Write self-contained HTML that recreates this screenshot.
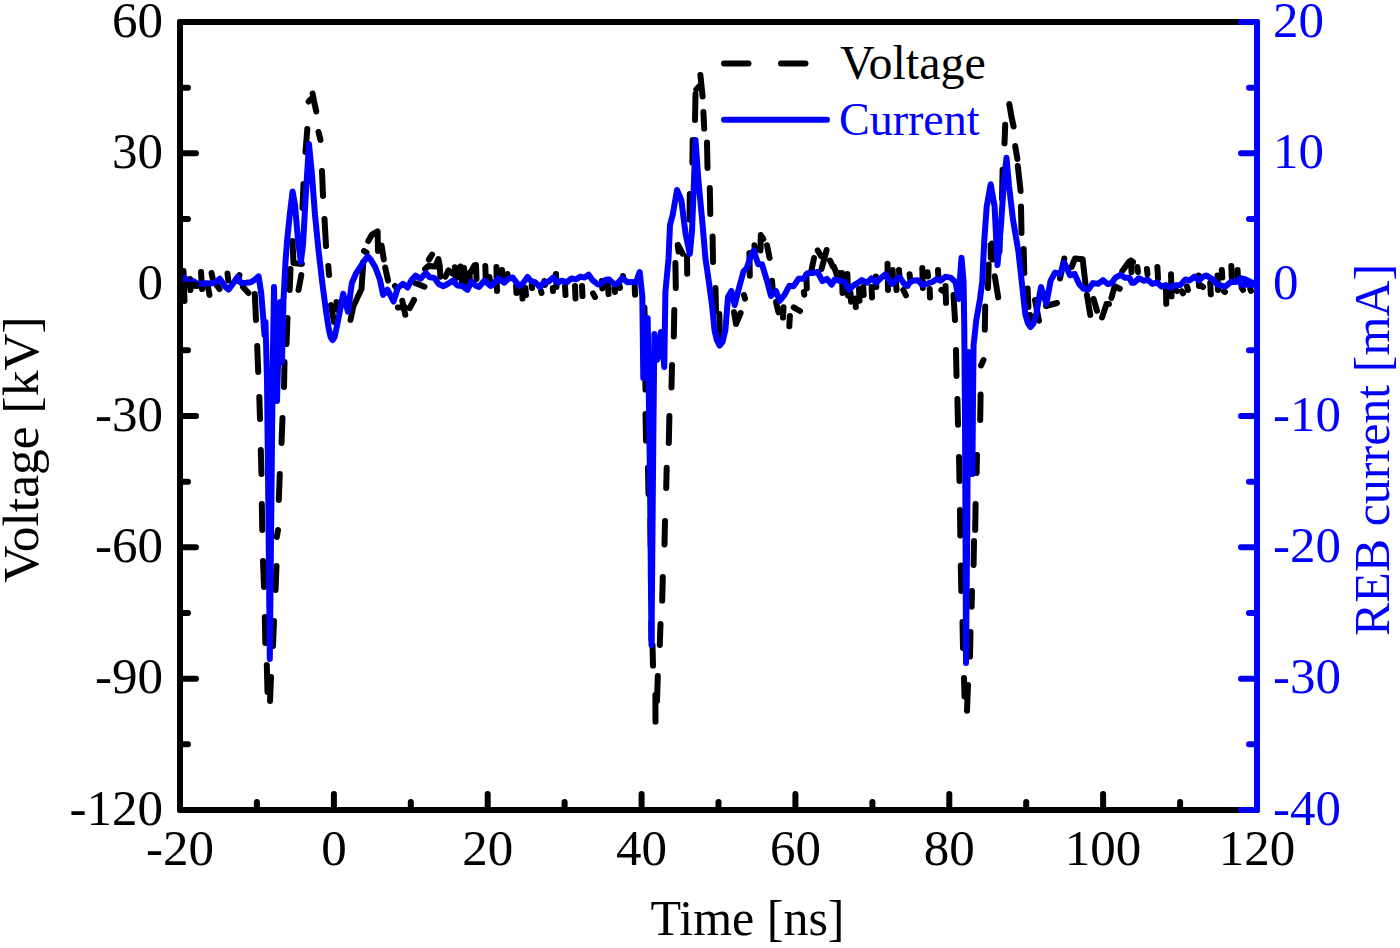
<!DOCTYPE html>
<html><head><meta charset="utf-8"><style>
html,body{margin:0;padding:0;background:#fff;}
svg{display:block;}
text{font-family:"Liberation Serif",serif;}
</style></head><body>
<svg width="1400" height="948" viewBox="0 0 1400 948">
<rect width="1400" height="948" fill="#fff"/>
<path d="M183.5,271.0 L184.5,301.0M185.0,285.0 L197.0,286.0M201.0,272.0 L202.0,289.0M208.0,287.0 L209.5,295.0M211.5,273.0 L213.0,280.0M216.0,284.0 L219.5,289.0M227.5,273.5 L228.3,280.5M237.5,281.0 L239.5,275.0M243.0,287.0 L248.5,293.0M190.0,279.0 L190.5,290.0M254.8,294.0 L256.0,320.0M257.2,346.0 L258.2,372.0M259.3,397.0 L260.0,419.0M260.8,450.0 L261.5,474.0M261.8,504.0 L262.3,530.0M263.0,561.0 L264.0,587.0M264.8,617.0 L265.3,643.0M266.8,665.0 L267.5,692.0M271.0,677.0 L270.0,701.0M274.0,621.0 L273.0,646.0M276.5,566.0 L275.5,590.0M278.0,530.0 L276.8,537.0M279.8,474.0 L278.8,500.0M282.5,418.0 L281.5,443.0M284.5,362.0 L284.0,387.0M287.5,318.0 L286.5,344.0M290.5,269.0 L289.7,290.0M292.5,241.0 L293.5,263.0 L302.0,264.0M301.3,275.0 L298.5,290.0M303.5,184.0 L302.5,208.0M307.3,129.0 L305.5,152.0M308.6,101.5 L311.5,98.5M312.6,93.5 L314.4,103.0 L316.3,111.5M318.5,132.0 L320.5,140.0M322.0,171.0 L323.0,196.0M324.5,219.0 L326.0,246.0M328.3,266.0 L329.0,275.0M331.0,305.0 L334.0,322.0M336.5,302.0 L337.5,310.0M363.3,262.0 L361.5,289.0M360.5,291.0 L353.5,306.0M353.0,308.0 L350.5,320.0M364.0,251.0 L366.5,252.5M368.3,241.0 L372.0,234.5 L377.6,231.3 L377.8,242.0 L378.0,251.0M381.6,245.5 L383.8,259.5M385.2,267.5 L388.0,280.5M395.0,286.0 L396.4,288.0M397.9,307.4 L404.5,306.7M402.3,300.8 L405.3,314.8M409.7,308.0 L414.0,300.0M414.9,283.0 L424.5,286.7M428.9,259.6 L432.0,254.6M425.1,269.0 L428.3,266.0 L435.3,266.6 L438.4,259.0 L439.7,265.3 L440.3,276.7M445.4,276.7 L448.5,270.4 L453.0,274.0M454.9,267.2 L456.0,278.0M460.6,266.6 L462.0,283.0M464.0,268.0 L465.0,283.0M469.4,274.2 L474.5,265.3M469.5,273.0 L470.0,283.0M476.0,265.0 L476.5,279.0M485.3,266.0 L485.8,280.0M489.5,277.0 L490.0,281.0M496.4,267.0 L497.0,291.0M502.0,270.0 L502.5,278.0M507.5,274.0 L508.0,278.0M516.0,286.0 L516.5,293.0M522.0,287.0 L522.5,298.6M525.4,288.0 L526.0,295.0M531.7,285.0 L532.0,288.0M541.0,291.0 L541.5,293.0M544.4,281.0 L545.0,285.0M552.8,288.0 L553.0,291.0M556.0,274.0 L556.5,287.0M565.0,286.0 L565.5,295.0M575.0,286.0 L575.5,298.5M582.0,286.0 L582.5,296.0M593.0,293.4 L595.0,297.2M601.8,281.0 L602.3,288.4M608.0,285.0 L608.5,294.0M614.4,288.0 L615.0,292.0M619.5,285.0 L620.0,288.0M623.0,276.0 L623.5,279.5M634.7,286.0 L635.0,294.7M644.4,307.6 L644.6,314.0M644.5,352.0 L644.8,378.0M645.3,378.5 L645.5,389.6M645.5,414.0 L646.0,440.6M648.0,467.7 L648.5,494.0M650.4,520.0 L650.7,546.0M650.9,570.0 L651.1,597.0M651.3,622.0 L651.5,640.0M652.5,645.0 L653.0,665.6M655.4,695.0 L655.5,721.7M657.8,676.0 L657.0,701.0M660.5,624.0 L659.8,645.0M662.8,577.0 L662.2,600.6M665.0,521.0 L664.5,544.5M666.7,467.7 L666.2,488.0M669.4,416.0 L668.8,443.0M672.0,365.0 L671.5,387.4M674.3,310.0 L673.8,336.5M675.4,263.0 L675.8,288.0M677.7,245.0 L678.5,251.6M678.0,245.0 L682.7,253.7M687.0,256.6 L687.2,273.7M689.8,194.0 L689.5,219.5M692.7,140.0 L692.4,162.6M695.5,94.0 L695.0,120.0M696.3,89.5 L699.5,86.0M700.4,75.0 L702.6,96.5M703.4,112.0 L704.2,128.5M707.0,142.6 L707.5,168.0M709.8,188.0 L710.3,214.0M712.6,236.6 L713.0,262.0M715.5,288.0 L716.0,310.7M719.3,314.0 L720.0,337.4M734.0,312.0 L736.0,324.0 L740.6,313.0M744.0,295.0 L745.0,298.6M749.4,253.0 L749.8,275.7M754.4,245.3 L755.0,250.4M760.5,250.4 L760.8,235.0 L763.3,239.0M767.0,245.3 L769.6,258.0M772.0,280.8 L772.5,287.0M776.0,302.0 L778.5,312.4M783.5,307.3 L783.0,317.5M789.9,316.0 L789.3,326.3M793.7,307.3 L800.0,311.0M803.8,292.0 L804.3,294.7M806.3,274.4 L806.8,288.4M811.4,270.6 L814.0,258.0M817.7,250.4 L821.0,256.0M821.5,269.0 L826.6,250.0M830.0,260.5 L833.0,266.8M834.0,266.8 L836.7,274.4M839.0,273.0 L849.0,296.0M842.0,273.0 L842.5,293.0M847.4,274.0 L848.0,295.4M850.5,293.0 L851.0,301.7M855.3,298.6 L855.8,307.0M859.0,289.0 L859.5,300.7M863.2,287.0 L863.7,295.0M871.6,287.0 L872.0,297.5M875.9,276.4 L876.3,287.0M887.5,263.8 L888.0,290.0M892.7,270.0 L893.0,279.6M896.0,282.7 L896.5,290.0M899.0,270.0 L899.5,277.5M903.3,290.0 L906.0,295.4M909.6,274.3 L910.0,278.5M922.3,268.0 L922.8,288.0M927.6,272.2 L928.0,276.4M929.7,289.0 L930.0,297.5M938.0,270.0 L938.5,278.5M941.3,290.0 L943.0,291.0M945.5,286.0 L946.0,302.8M953.5,295.0 L955.0,320.0M956.0,350.0 L956.5,376.0M957.4,399.0 L958.0,424.7M959.0,457.0 L959.5,481.0M960.0,510.0 L960.3,535.5M960.8,565.4 L961.3,591.0M962.5,622.0 L963.0,648.0M964.0,678.0 L964.5,696.5M968.0,685.0 L967.0,710.7M970.5,632.0 L970.0,656.6M972.0,591.0 L971.6,606.7M974.0,541.0 L973.6,565.0M975.6,504.0 L975.2,530.0M977.0,455.0 L976.6,473.0M980.6,394.6 L980.2,420.0M983.5,360.0 L981.0,365.5M985.2,306.4 L984.8,329.6M988.7,264.6 L988.0,288.0M990.6,245.0 L990.8,257.7M992.0,243.6 L992.5,259.4M994.8,276.3 L998.2,297.4M1000.0,230.4 L999.5,251.5M1002.6,169.7 L1002.0,198.7M1005.2,124.8 L1004.5,143.3M1009.3,104.0 L1011.5,117.0 L1013.6,126.5M1015.2,146.0 L1017.4,159.0M1017.8,166.0 L1020.6,191.0M1021.0,206.6 L1021.5,233.0M1023.7,248.9 L1024.3,273.0M1027.6,288.4 L1028.4,307.0M1030.0,315.0 L1030.5,322.7M1035.0,300.0 L1039.0,320.7M1046.0,306.0 L1057.0,303.0M1060.0,278.5 L1064.3,258.5M1071.7,266.9 L1075.0,258.4 L1082.7,259.3 L1084.0,271.0 L1085.6,285.4M1086.9,294.7 L1090.3,315.0M1093.6,299.0 L1097.0,310.8M1106.3,304.9 L1102.0,317.5M1106.5,304.0 L1109.0,304.0M1111.4,298.0 L1114.7,286.3 L1119.8,288.8M1122.3,271.0 L1129.0,261.8 L1133.0,262.0M1131.0,260.6 L1131.5,272.0M1137.4,267.0 L1138.0,272.0M1146.9,269.0 L1147.5,274.3M1157.4,267.0 L1158.0,278.5M1165.9,288.0 L1166.3,303.8M1171.0,274.3 L1171.5,296.5M1175.4,290.0 L1177.0,291.0M1181.7,291.2 L1183.0,293.3M1187.0,286.4 L1188.0,290.0M1198.6,275.4 L1199.0,286.0M1201.7,286.0 L1203.0,287.0M1210.2,282.7 L1210.8,294.3M1217.5,275.4 L1218.0,290.0M1221.8,270.0 L1222.3,277.5M1223.9,291.2 L1225.0,292.0M1231.3,265.9 L1231.8,277.5M1237.6,270.0 L1238.0,280.6M1241.8,288.0 L1243.0,290.0M1250.3,289.0 L1251.0,291.0" fill="none" stroke="#000" stroke-width="6.0" stroke-linecap="round" stroke-linejoin="round"/>
<polyline points="181.0,283.0 185.0,278.0 189.5,283.8 193.5,281.1 197.8,284.2 202.3,283.4 206.7,283.3 210.6,283.6 215.6,282.2 219.7,278.7 224.8,286.0 228.5,289.6 233.1,283.4 237.5,277.0 241.3,283.2 246.2,282.8 250.8,282.3 255.1,279.4 258.6,276.4 261.2,293.0 263.0,315.0 264.5,335.0 265.5,322.0 267.0,380.0 268.5,520.0 269.8,659.0 271.2,520.0 272.8,360.0 274.0,287.0 275.5,350.0 277.0,401.0 279.0,330.0 280.3,302.0 281.5,345.0 282.0,362.0 283.5,300.0 285.6,260.0 287.0,242.0 289.7,215.0 292.6,191.4 295.0,205.0 298.0,240.0 300.9,262.0 303.0,245.0 305.5,200.0 309.0,144.0 312.0,175.0 315.0,215.0 318.5,250.0 322.3,283.0 326.1,311.7 328.6,328.0 330.6,337.0 332.6,340.0 334.6,337.0 337.2,325.0 343.2,293.7 348.0,311.7 351.8,283.2 356.3,272.8 360.0,267.3 363.5,262.0 367.7,256.3 371.0,260.0 375.3,267.3 379.8,279.2 383.1,294.9 387.5,289.7 393.5,301.5 397.8,288.0 403.0,283.8 407.5,287.5 411.6,280.0 415.6,275.6 420.5,278.7 425.8,272.9 429.7,277.3 434.3,277.9 438.5,283.9 443.5,286.2 447.6,284.0 452.7,280.7 457.4,285.5 462.2,285.9 467.4,289.9 471.6,281.7 476.3,285.9 479.0,287.0 484.3,280.6 490.6,285.9 493.7,283.9 498.0,278.5 504.3,282.7 508.2,278.8 512.7,277.5 519.0,285.9 522.6,283.7 527.5,277.0 530.8,280.9 535.2,282.4 540.0,287.0 543.8,282.7 548.4,281.8 553.2,277.5 557.8,282.8 561.7,280.7 566.6,282.3 571.5,278.4 575.9,279.4 580.5,276.6 584.5,277.6 588.5,274.6 592.4,280.1 598.0,284.5 600.7,284.1 605.7,279.8 609.4,279.5 614.4,284.5 618.1,283.0 622.0,278.2 627.7,282.3 631.7,281.9 635.8,282.5 639.7,272.0 642.3,296.0 643.3,378.0 645.0,340.0 647.7,318.0 650.0,480.0 651.5,645.0 653.2,450.0 654.4,334.0 657.0,360.0 658.8,353.0 661.0,332.0 664.3,367.0 665.4,292.0 668.5,259.0 670.0,225.0 672.7,215.0 677.0,190.0 681.3,200.0 685.6,234.0 689.8,254.0 692.0,231.0 694.0,180.0 695.5,140.0 698.4,180.0 702.6,225.0 705.5,259.0 708.6,280.0 712.0,305.0 714.5,330.0 716.8,340.0 719.5,345.5 722.5,342.0 725.4,330.0 728.0,297.0 731.4,291.0 734.7,305.0 739.0,288.0 743.5,271.5 746.8,268.0 750.6,256.7 753.8,250.4 758.2,264.3 762.0,264.3 767.0,280.8 771.0,296.0 776.0,291.0 779.7,301.0 784.5,294.8 789.3,285.8 793.6,286.2 798.5,278.8 803.4,278.7 807.5,273.3 812.6,273.0 817.6,272.0 822.4,281.2 826.9,278.9 831.6,284.6 835.0,279.2 839.7,280.9 844.2,281.6 849.3,289.8 853.6,285.3 857.8,282.9 861.9,280.0 866.9,282.8 871.4,278.4 876.3,282.7 881.0,277.8 885.4,274.3 891.7,283.8 895.2,281.3 898.0,277.5 900.1,277.8 904.5,284.4 907.5,286.0 909.6,282.5 913.7,280.6 917.7,280.2 922.6,285.1 927.5,283.5 932.3,282.0 936.8,279.1 940.7,280.7 945.4,276.7 950.5,277.6 955.5,282.0 958.6,299.0 960.3,273.8 961.5,257.7 963.6,282.0 964.3,330.0 965.0,420.0 965.6,550.0 966.0,663.0 967.3,520.0 968.4,352.0 970.5,420.0 972.4,474.0 973.0,400.0 973.6,345.0 976.3,320.0 980.0,299.0 982.2,282.0 984.3,240.0 986.7,206.6 990.7,184.2 994.6,206.6 997.5,265.0 1001.0,225.0 1004.0,180.3 1006.5,157.8 1009.0,185.5 1013.0,219.8 1018.4,251.5 1021.0,275.0 1025.3,314.4 1027.8,323.0 1030.5,327.0 1033.2,324.0 1035.8,316.5 1041.0,287.0 1046.4,303.8 1050.6,280.6 1055.1,272.5 1060.0,274.3 1064.3,262.7 1070.0,275.3 1074.5,273.8 1079.1,283.9 1083.5,288.8 1088.6,289.3 1093.0,283.1 1098.1,283.8 1103.1,280.2 1107.7,284.0 1111.5,283.2 1115.6,277.6 1120.5,274.8 1124.9,277.7 1129.5,277.7 1131.8,282.7 1134.0,282.8 1138.9,278.2 1143.5,280.7 1147.7,279.8 1152.2,283.9 1157.1,282.5 1161.5,286.6 1166.0,285.0 1170.8,287.8 1175.3,285.2 1180.4,284.9 1185.4,279.4 1189.6,280.4 1194.7,276.5 1198.7,280.4 1203.1,276.7 1206.0,275.4 1212.0,278.9 1217.0,284.3 1222.8,286.0 1225.8,286.3 1231.0,281.7 1236.1,281.9 1240.6,278.1 1245.5,279.5 1252.4,282.7" fill="none" stroke="#0000ff" stroke-width="6.0" stroke-linecap="round" stroke-linejoin="round"/>
<path d="M1257,22 L180,22 L180,810 L1257,810" fill="none" stroke="#000" stroke-width="6" stroke-linejoin="round" stroke-linecap="round"/>
<path d="M180,22.0 L196,22.0 M180,87.7 L188,87.7 M180,153.3 L196,153.3 M180,219.0 L188,219.0 M180,284.7 L196,284.7 M180,350.3 L188,350.3 M180,416.0 L196,416.0 M180,481.7 L188,481.7 M180,547.3 L196,547.3 M180,613.0 L188,613.0 M180,678.7 L196,678.7 M180,744.3 L188,744.3 M180,810.0 L196,810.0 M180.0,810 L180.0,794 M256.9,810 L256.9,802 M333.9,810 L333.9,794 M410.8,810 L410.8,802 M487.7,810 L487.7,794 M564.6,810 L564.6,802 M641.6,810 L641.6,794 M718.5,810 L718.5,802 M795.4,810 L795.4,794 M872.4,810 L872.4,802 M949.3,810 L949.3,794 M1026.2,810 L1026.2,802 M1103.1,810 L1103.1,794 M1180.1,810 L1180.1,802 M1257.0,810 L1257.0,794" fill="none" stroke="#000" stroke-width="6" stroke-linecap="round"/>
<path d="M1241,22 L1257,22 L1257,810 L1241,810 M1257,87.7 L1249,87.7 M1257,153.3 L1241,153.3 M1257,219.0 L1249,219.0 M1257,284.7 L1241,284.7 M1257,350.3 L1249,350.3 M1257,416.0 L1241,416.0 M1257,481.7 L1249,481.7 M1257,547.3 L1241,547.3 M1257,613.0 L1249,613.0 M1257,678.7 L1241,678.7 M1257,744.3 L1249,744.3" fill="none" stroke="#0000ff" stroke-width="6" stroke-linecap="round" stroke-linejoin="round"/>
<text x="163" y="36.5" font-size="51" text-anchor="end">60</text>
<text x="163" y="167.8" font-size="51" text-anchor="end">30</text>
<text x="163" y="299.2" font-size="51" text-anchor="end">0</text>
<text x="163" y="430.5" font-size="51" text-anchor="end">-30</text>
<text x="163" y="561.8" font-size="51" text-anchor="end">-60</text>
<text x="163" y="693.2" font-size="51" text-anchor="end">-90</text>
<text x="163" y="824.5" font-size="51" text-anchor="end">-120</text>
<text x="180.0" y="865" font-size="51" text-anchor="middle">-20</text>
<text x="333.9" y="865" font-size="51" text-anchor="middle">0</text>
<text x="487.7" y="865" font-size="51" text-anchor="middle">20</text>
<text x="641.6" y="865" font-size="51" text-anchor="middle">40</text>
<text x="795.4" y="865" font-size="51" text-anchor="middle">60</text>
<text x="949.3" y="865" font-size="51" text-anchor="middle">80</text>
<text x="1103.1" y="865" font-size="51" text-anchor="middle">100</text>
<text x="1257.0" y="865" font-size="51" text-anchor="middle">120</text>
<text x="1273" y="36.5" font-size="51" fill="#0000ff">20</text>
<text x="1273" y="167.8" font-size="51" fill="#0000ff">10</text>
<text x="1273" y="299.2" font-size="51" fill="#0000ff">0</text>
<text x="1273" y="430.5" font-size="51" fill="#0000ff">-10</text>
<text x="1273" y="561.8" font-size="51" fill="#0000ff">-20</text>
<text x="1273" y="693.2" font-size="51" fill="#0000ff">-30</text>
<text x="1273" y="824.5" font-size="51" fill="#0000ff">-40</text>
<text x="747.5" y="935" font-size="50" text-anchor="middle">Time [ns]</text>
<text transform="translate(38,449.5) rotate(-90)" font-size="51.5" text-anchor="middle">Voltage [kV]</text>
<text transform="translate(1389,450) rotate(-90)" font-size="50" text-anchor="middle" fill="#0000ff">REB current [mA]</text>
<path d="M724,63.5 L748.5,63.5 M781,63.5 L805.5,63.5" stroke="#000" stroke-width="6.0" stroke-linecap="round"/>
<path d="M724,119.7 L827,119.7" stroke="#0000ff" stroke-width="6.0" stroke-linecap="round"/>
<text x="840" y="79" font-size="48">Voltage</text>
<text x="839" y="135" font-size="46" fill="#0000ff">Current</text>
</svg></body></html>
